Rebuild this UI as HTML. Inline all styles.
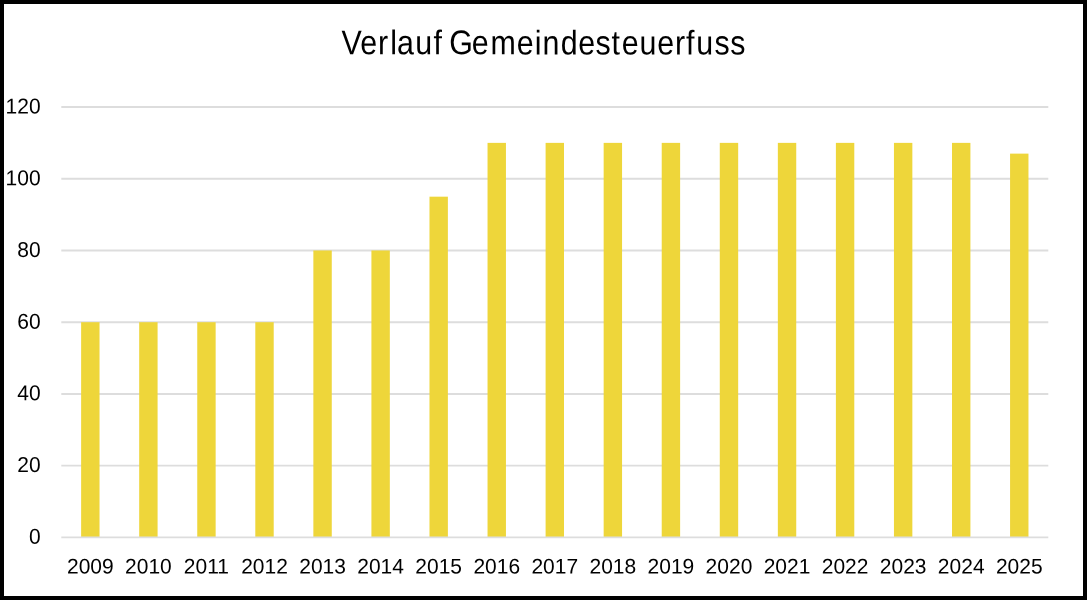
<!DOCTYPE html>
<html><head><meta charset="utf-8"><title>Verlauf Gemeindesteuerfuss</title><style>
html,body{margin:0;padding:0;background:#fff;}
body{width:1087px;height:600px;position:relative;overflow:hidden;font-family:"Liberation Sans",sans-serif;color:#000;}
.frame{position:absolute;left:0;top:0;width:1079px;height:592px;border:4px solid #000;}
svg{position:absolute;left:0;top:0;will-change:transform;}
text{text-rendering:geometricPrecision;font-family:"Liberation Sans",sans-serif;fill:#000;}
</style></head><body>
<svg width="1087" height="600" viewBox="0 0 1087 600" shape-rendering="geometricPrecision">
<g stroke="#DDDDDD" stroke-width="1.9" fill="none">
<line x1="61.30" x2="1048.30" y1="465.67" y2="465.67"/>
<line x1="61.30" x2="1048.30" y1="393.93" y2="393.93"/>
<line x1="61.30" x2="1048.30" y1="322.20" y2="322.20"/>
<line x1="61.30" x2="1048.30" y1="250.47" y2="250.47"/>
<line x1="61.30" x2="1048.30" y1="178.73" y2="178.73"/>
<line x1="61.30" x2="1048.30" y1="107.00" y2="107.00"/>
</g>
<g fill="#EED63A">
<rect x="81.13" y="322.20" width="18.4" height="215.20"/>
<rect x="139.19" y="322.20" width="18.4" height="215.20"/>
<rect x="197.25" y="322.20" width="18.4" height="215.20"/>
<rect x="255.31" y="322.20" width="18.4" height="215.20"/>
<rect x="313.36" y="250.47" width="18.4" height="286.93"/>
<rect x="371.42" y="250.47" width="18.4" height="286.93"/>
<rect x="429.48" y="196.67" width="18.4" height="340.73"/>
<rect x="487.54" y="142.87" width="18.4" height="394.53"/>
<rect x="545.60" y="142.87" width="18.4" height="394.53"/>
<rect x="603.66" y="142.87" width="18.4" height="394.53"/>
<rect x="661.72" y="142.87" width="18.4" height="394.53"/>
<rect x="719.78" y="142.87" width="18.4" height="394.53"/>
<rect x="777.84" y="142.87" width="18.4" height="394.53"/>
<rect x="835.89" y="142.87" width="18.4" height="394.53"/>
<rect x="893.95" y="142.87" width="18.4" height="394.53"/>
<rect x="952.01" y="142.87" width="18.4" height="394.53"/>
<rect x="1010.07" y="153.63" width="18.4" height="383.77"/>
</g>
<line x1="61.30" x2="1048.30" y1="537.40" y2="537.40" stroke="#DDDDDD" stroke-width="1.9"/>
<text x="-211.99 -192.29 -173.81 -160.83 -153.79 -134.45 -115.38 -107.09 -98.79 -75.08 -55.34 -27.71 -8.76 -0.66 18.62 37.24 55.40 72.17 83.03 101.65 120.29 138.93 150.57 161.28 180.45 197.13" font-size="32" transform="translate(543.00,54.400) skewY(0.03) scale(0.95,1.072)">Verlauf Gemeindesteuerfuss</text>
<g font-size="21">
<text text-anchor="end" transform="translate(40.60,113.618) skewY(0.03) scale(1.0,1.02)">120</text>
<text text-anchor="end" transform="translate(40.60,185.293) skewY(0.03) scale(1.0,1.02)">100</text>
<text text-anchor="end" transform="translate(40.60,256.968) skewY(0.03) scale(1.0,1.02)">80</text>
<text text-anchor="end" transform="translate(40.60,328.643) skewY(0.03) scale(1.0,1.02)">60</text>
<text text-anchor="end" transform="translate(40.60,400.318) skewY(0.03) scale(1.0,1.02)">40</text>
<text text-anchor="end" transform="translate(40.60,471.993) skewY(0.03) scale(1.0,1.02)">20</text>
<text text-anchor="end" transform="translate(40.60,543.668) skewY(0.03) scale(1.0,1.02)">0</text>
<text text-anchor="middle" transform="translate(90.33,573.460) skewY(0.03) scale(1.0,1.005)">2009</text>
<text text-anchor="middle" transform="translate(148.39,573.460) skewY(0.03) scale(1.0,1.005)">2010</text>
<text text-anchor="middle" transform="translate(206.45,573.460) skewY(0.03) scale(1.0,1.005)">2011</text>
<text text-anchor="middle" transform="translate(264.51,573.460) skewY(0.03) scale(1.0,1.005)">2012</text>
<text text-anchor="middle" transform="translate(322.56,573.460) skewY(0.03) scale(1.0,1.005)">2013</text>
<text text-anchor="middle" transform="translate(380.62,573.460) skewY(0.03) scale(1.0,1.005)">2014</text>
<text text-anchor="middle" transform="translate(438.68,573.460) skewY(0.03) scale(1.0,1.005)">2015</text>
<text text-anchor="middle" transform="translate(496.74,573.460) skewY(0.03) scale(1.0,1.005)">2016</text>
<text text-anchor="middle" transform="translate(554.80,573.460) skewY(0.03) scale(1.0,1.005)">2017</text>
<text text-anchor="middle" transform="translate(612.86,573.460) skewY(0.03) scale(1.0,1.005)">2018</text>
<text text-anchor="middle" transform="translate(670.92,573.460) skewY(0.03) scale(1.0,1.005)">2019</text>
<text text-anchor="middle" transform="translate(728.98,573.460) skewY(0.03) scale(1.0,1.005)">2020</text>
<text text-anchor="middle" transform="translate(787.04,573.460) skewY(0.03) scale(1.0,1.005)">2021</text>
<text text-anchor="middle" transform="translate(845.09,573.460) skewY(0.03) scale(1.0,1.005)">2022</text>
<text text-anchor="middle" transform="translate(903.15,573.460) skewY(0.03) scale(1.0,1.005)">2023</text>
<text text-anchor="middle" transform="translate(961.21,573.460) skewY(0.03) scale(1.0,1.005)">2024</text>
<text text-anchor="middle" transform="translate(1019.27,573.460) skewY(0.03) scale(1.0,1.005)">2025</text>
</g>
</svg>
<div class="frame"></div>
</body></html>
